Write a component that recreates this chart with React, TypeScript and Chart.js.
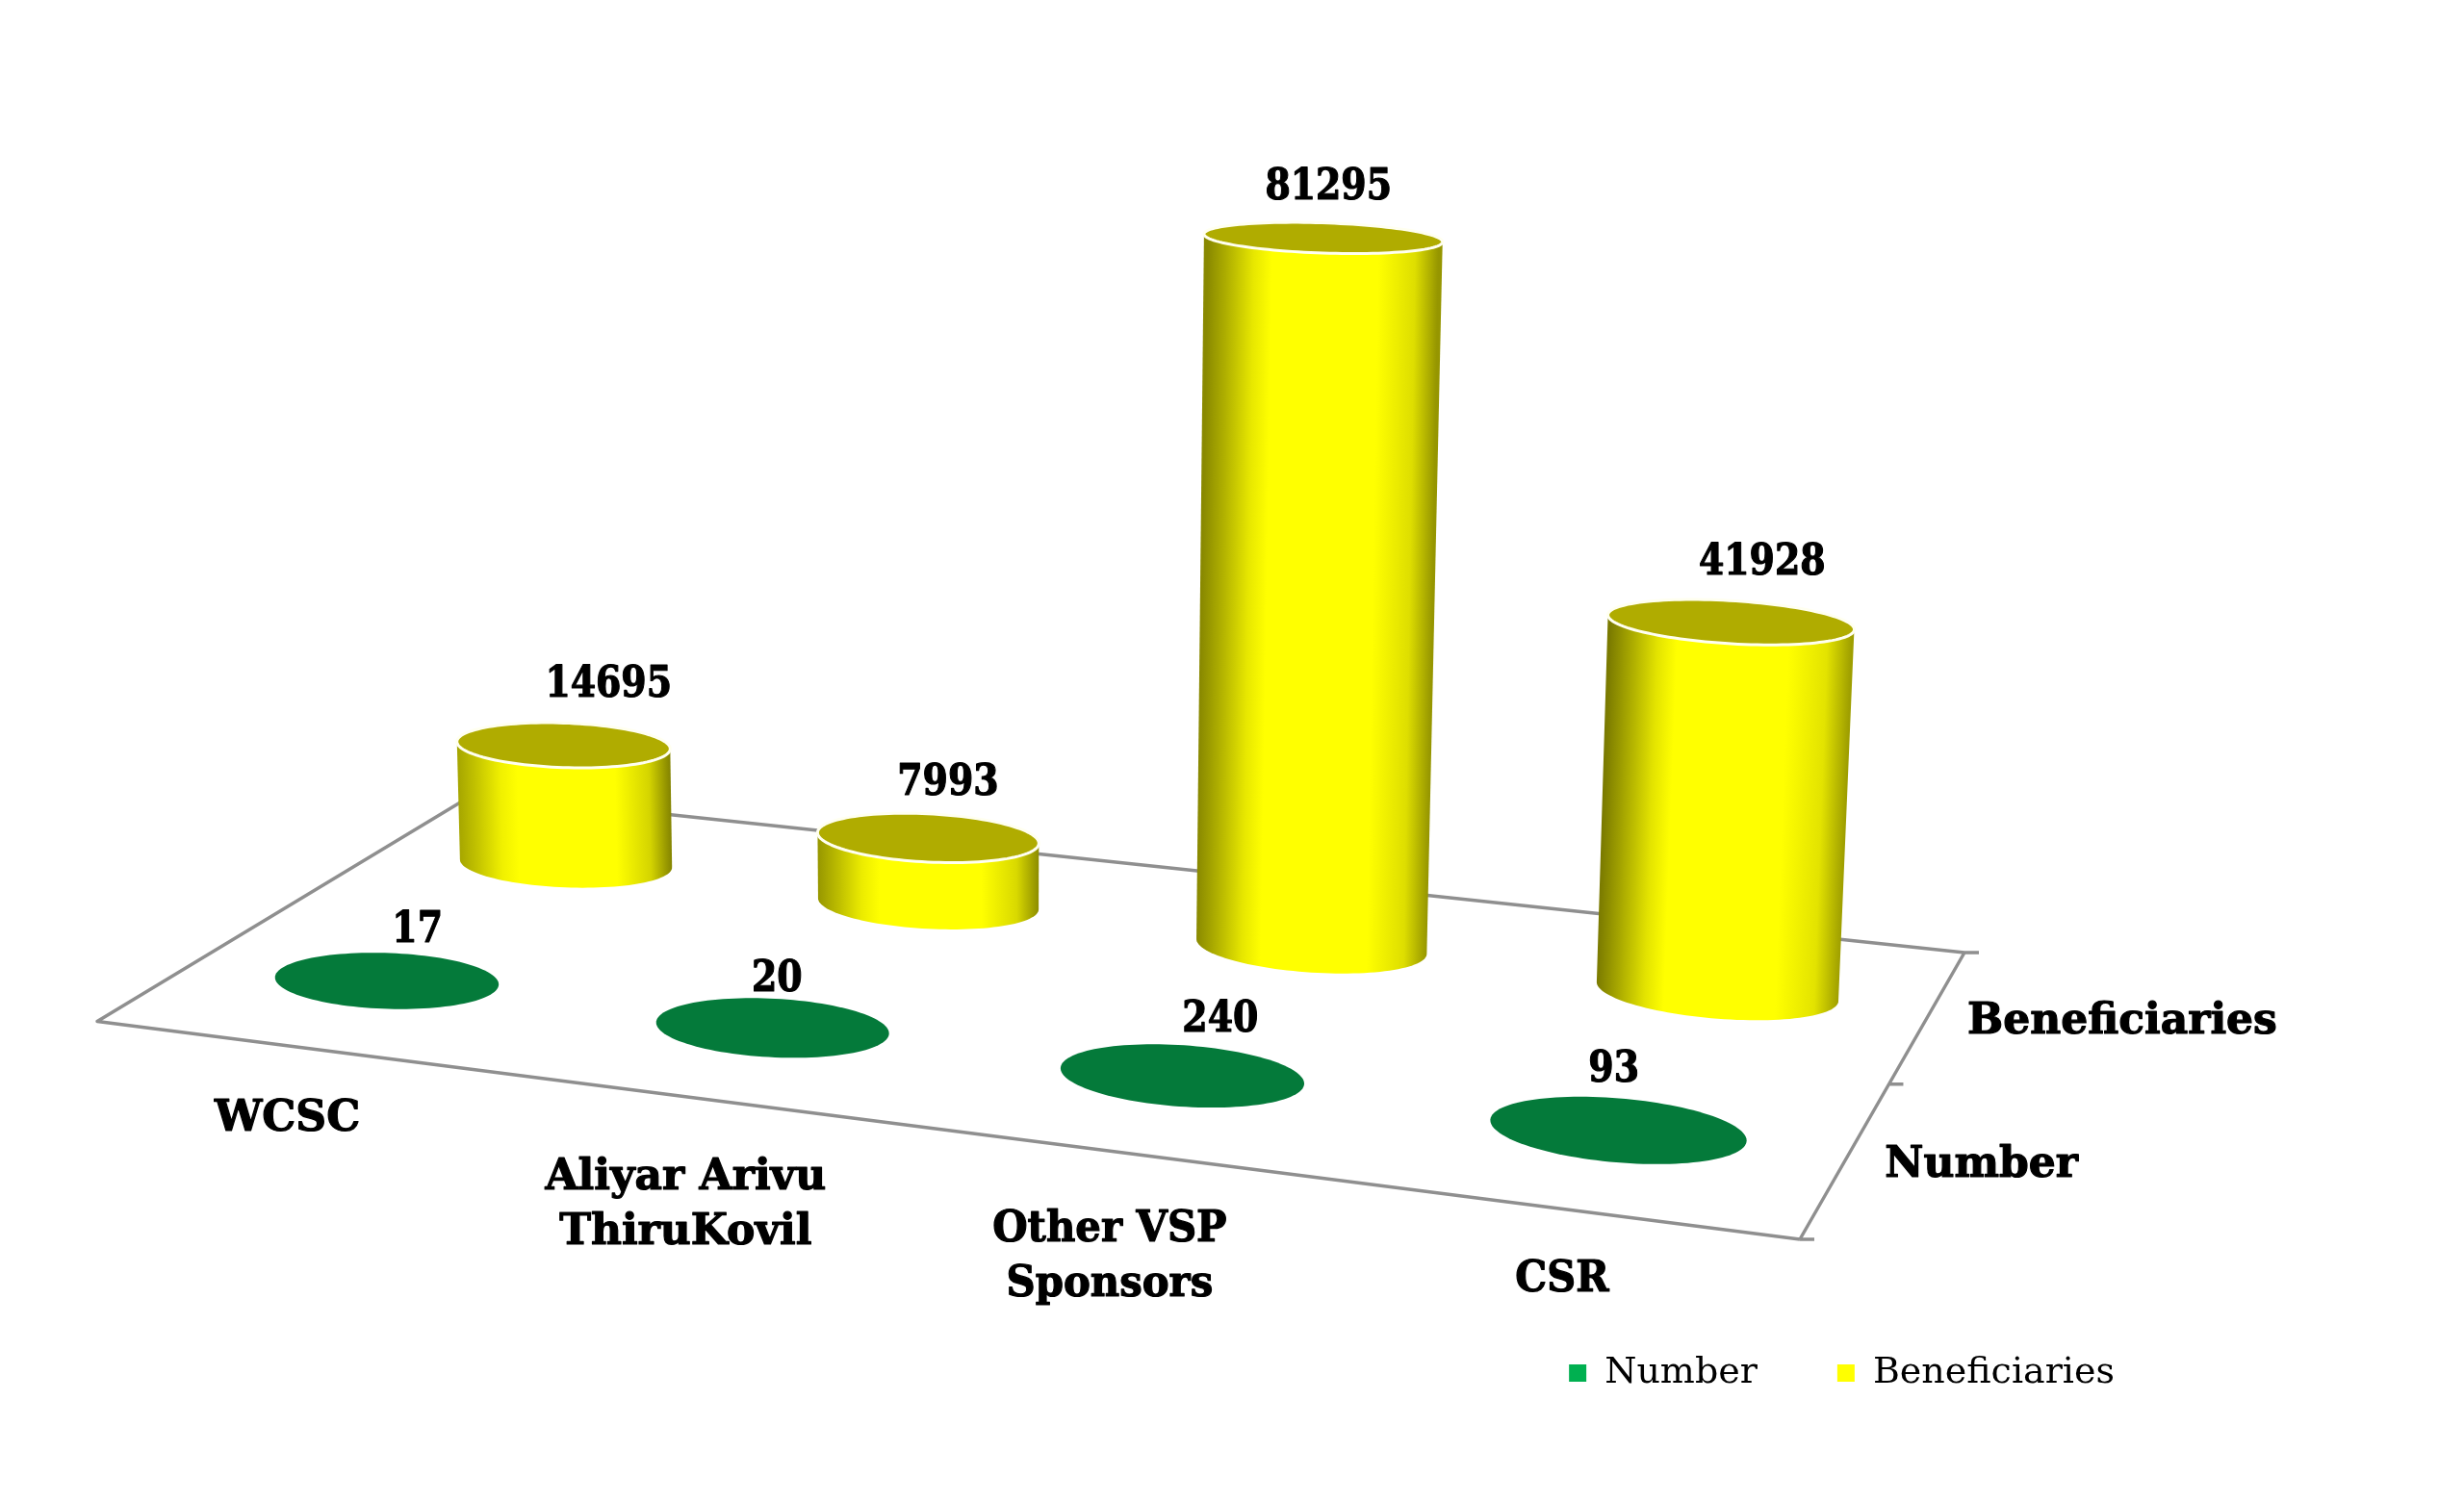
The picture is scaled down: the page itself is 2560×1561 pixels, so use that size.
import React, { useEffect, useRef } from "react";
import { Chart, registerables } from "chart.js";

Chart.register(...registerables);

const categories = ["WCSC", "Aliyar Arivu\nThiruKovil", "Other VSP\nSponsors", "CSR"];
const seriesNames = ["Number", "Beneficiaries"];
const numberValues = [17, 20, 240, 93];
const beneficiaryValues = [14695, 7993, 81295, 41928];

// Layout: floor corners of the 3D plot on the page, and the vertical vanishing point
const FL = [101, 1061.5], FR = [1870, 1288], BR = [2041, 990], BL = [493, 825];
const VP = [1017, 22000];
const DEPTH_K = -0.0434;
const ROW_DEPTH = [0.25, 0.755];
const ROW_RX = [0.0702, 0.0715];
const RY = 0.1;
const SERIF = '"DejaVu Serif"';

const valueOffsets = [
  [[32, -51], [5, -49], [40, -57], [-4, -62]],
  [[47, -62], [21, -56], [6, -51], [33, -61]],
];
const categorySqueeze = [1, 1, 0.95, 0.94];

function makeProjection() {
  const [x0, y0] = FL, [x1, y1] = FR, [x2, y2] = BR, [x3, y3] = BL;
  const dx1 = x1 - x2, dy1 = y1 - y2, dx2 = x3 - x2, dy2 = y3 - y2;
  const sx = x0 - x1 + x2 - x3, sy = y0 - y1 + y2 - y3;
  const det = dx1 * dy2 - dx2 * dy1;
  const g = (sx * dy2 - dx2 * sy) / det;
  const h = (dx1 * sy - sx * dy1) / det;
  const a = x1 - x0 + g * x1, b = x3 - x0 + h * x3;
  const d = y1 - y0 + g * y1, e = y3 - y0 + h * y3;
  return (u: number, v: number, z: number): [number, number] => {
    const w = g * u + h * v + 1 + DEPTH_K * z;
    return [
      (a * u + b * v + x0 + DEPTH_K * VP[0] * z) / w,
      (d * u + e * v + y0 + DEPTH_K * VP[1] * z) / w,
    ];
  };
}

function mix(t: number, a: number, b: number) {
  return a + (b - a) * t;
}
function olive(level: number) {
  const c = Math.round(255 * level);
  return `rgb(${c},${c},0)`;
}

const N = 120;
function ring(P: any, u: number, v: number, z: number, rx: number) {
  const pts: [number, number][] = [];
  for (let k = 0; k < N; k++) {
    const t = (k / N) * Math.PI * 2;
    pts.push(P(u + rx * Math.cos(t), v + RY * Math.sin(t), z));
  }
  return pts;
}
function trace(ctx: CanvasRenderingContext2D, pts: [number, number][]) {
  ctx.beginPath();
  pts.forEach((p, i) => (i ? ctx.lineTo(p[0], p[1]) : ctx.moveTo(p[0], p[1])));
  ctx.closePath();
}
function extremes(pts: [number, number][]) {
  let l = 0, r = 0;
  pts.forEach((p, i) => {
    if (p[0] < pts[l][0]) l = i;
    if (p[0] > pts[r][0]) r = i;
  });
  return [l, r];
}

function drawCylinder(ctx: CanvasRenderingContext2D, P: any, u: number, v: number, z: number, rx: number, isYellow: boolean, top: string) {
  const base = ring(P, u, v, 0, rx);
  const cap = ring(P, u, v, z, rx);
  if (isYellow) {
    const [bl, br] = extremes(base);
    const [tl, tr] = extremes(cap);
    ctx.beginPath();
    ctx.moveTo(base[bl][0], base[bl][1]);
    for (let k = bl; k !== br; k = (k + 1) % N) ctx.lineTo(base[k][0], base[k][1]);
    ctx.lineTo(base[br][0], base[br][1]);
    ctx.lineTo(cap[tr][0], cap[tr][1]);
    ctx.lineTo(cap[tl][0], cap[tl][1]);
    ctx.closePath();
    const bc = P(u, v, 0), tc = P(u, v, z);
    const ax = tc[0] - bc[0], ay = tc[1] - bc[1];
    const len = Math.hypot(ax, ay) || 1;
    const nx = -ay / len, ny = ax / len;
    const span = (base[br][0] - base[bl][0]) * nx + (base[br][1] - base[bl][1]) * ny;
    const g = ctx.createLinearGradient(
      base[bl][0], base[bl][1],
      base[bl][0] + nx * span, base[bl][1] + ny * span
    );
    g.addColorStop(0, olive(mix(u, 0.68, 0.45)));
    g.addColorStop(0.08, olive(mix(u, 0.78, 0.62)));
    g.addColorStop(0.2, olive(mix(u, 0.95, 0.88)));
    g.addColorStop(0.28, olive(1));
    g.addColorStop(0.74, olive(1));
    g.addColorStop(0.9, olive(mix(u, 0.82, 0.9)));
    g.addColorStop(1, olive(mix(u, 0.5, 0.64)));
    ctx.fillStyle = g;
    ctx.fill();
  }
  trace(ctx, cap);
  ctx.fillStyle = top;
  ctx.fill();
  if (isYellow) {
    ctx.strokeStyle = "#fffff0";
    ctx.lineWidth = 3;
    ctx.stroke();
  }
}

const floorPlugin = {
  id: "floor3d",
  beforeDatasetDraw: () => false,
  afterDatasetsDraw(chart: any) {
    const ctx: CanvasRenderingContext2D = chart.ctx;
    const P = makeProjection();
    const { left, width, height } = chart.chartArea;
    const uOf = (x: number) => (x - left) / width;

    // floor
    ctx.save();
    ctx.strokeStyle = "#8f8f8f";
    ctx.lineWidth = 3.5;
    ctx.lineJoin = "round";
    ctx.beginPath();
    ctx.moveTo(FR[0], FR[1]);
    ctx.lineTo(FL[0], FL[1]);
    ctx.lineTo(BL[0], BL[1]);
    ctx.lineTo(BR[0], BR[1]);
    ctx.lineTo(FR[0], FR[1]);
    [0, 0.5, 1].forEach((v) => {
      const p = P(1, v, 0);
      ctx.moveTo(p[0], p[1]);
      ctx.lineTo(p[0] + 15, p[1]);
    });
    ctx.stroke();

    // marks: back row first
    for (let ds = chart.data.datasets.length - 1; ds >= 0; ds--) {
      const meta = chart.getDatasetMeta(ds);
      const set = chart.data.datasets[ds];
      meta.data.forEach((el: any) => {
        const u = uOf(el.x);
        const z = (el.base - el.y) / height;
        drawCylinder(ctx, P, u, ROW_DEPTH[ds], z, ROW_RX[ds], ds === 1, set.capColor);
      });
    }

    // texts
    ctx.fillStyle = "#000";
    ctx.strokeStyle = "#000";
    ctx.lineJoin = "round";
    ctx.textBaseline = "middle";
    const boldText = (s: string, x: number, y: number, align: CanvasTextAlign, size: number, squeeze: number) => {
      ctx.font = `bold ${size}px ${SERIF}`;
      ctx.textAlign = align;
      const w = ctx.measureText(s).width;
      ctx.lineWidth = 1.2;
      ctx.fillText(s, x, y, w * squeeze);
      ctx.strokeText(s, x, y, w * squeeze);
    };
    chart.data.datasets.forEach((set: any, ds: number) => {
      chart.getDatasetMeta(ds).data.forEach((el: any, i: number) => {
        const p = P(uOf(el.x), ROW_DEPTH[ds], (el.base - el.y) / height);
        const o = valueOffsets[ds][i];
        boldText(String(set.data[i]), p[0] + o[0], p[1] + o[1], "center", 44, 0.86);
      });
    });
    chart.getDatasetMeta(0).data.forEach((el: any, i: number) => {
      const p = P(uOf(el.x), 0, 0);
      const lines = String(chart.data.labels[i]).split("\n");
      lines.forEach((line, k) => {
        const dy = [77, 85, 82, 74][i];
        boldText(line, p[0], p[1] + dy + k * 57, "center", 44, categorySqueeze[i]);
      });
    });
    chart.data.datasets.forEach((set: any, ds: number) => {
      const p = P(1, ROW_DEPTH[ds], 0);
      boldText(set.label, p[0] + 40, p[1] + 8, "left", 44, 1);
    });
    ctx.restore();
  },
};

export default function App() {
  const ref = useRef<HTMLCanvasElement>(null);
  useEffect(() => {
    document.body.style.margin = "0";
    document.body.style.background = "#fff";
    const chart = new Chart(ref.current!, {
      type: "bar",
      data: {
        labels: categories,
        datasets: [
          { label: seriesNames[0], data: numberValues, backgroundColor: "#00b050", capColor: "#047a3a", grouped: false } as any,
          { label: seriesNames[1], data: beneficiaryValues, backgroundColor: "#ffff00", capColor: "#b0ac00", grouped: false } as any,
        ],
      },
      options: {
        animation: false,
        responsive: false,
        devicePixelRatio: 1,
        layout: { padding: { right: 280, bottom: 105 } },
        scales: {
          x: { display: false },
          y: { display: false, min: 0, max: 100000 },
        },
        plugins: {
          tooltip: { enabled: false },
          legend: {
            position: "bottom",
            align: "end",
            labels: {
              boxWidth: 18,
              boxHeight: 18,
              padding: 83,
              color: "#000",
              font: { family: SERIF, size: 38 },
            },
          },
        },
      },
      plugins: [floorPlugin],
    });
    return () => chart.destroy();
  }, []);
  return <canvas ref={ref} width={2560} height={1561} style={{ display: "block" }} />;
}
